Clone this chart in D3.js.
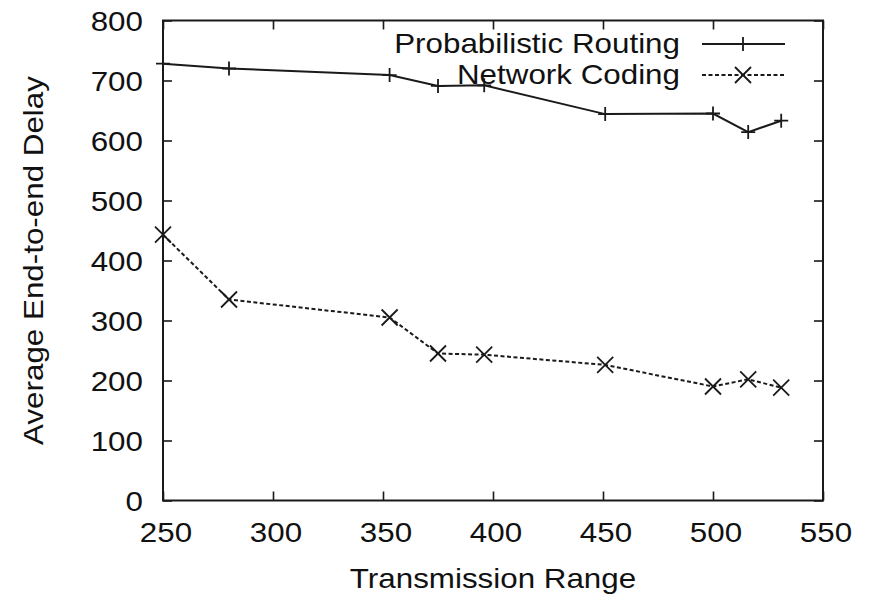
<!DOCTYPE html>
<html>
<head>
<meta charset="utf-8">
<script src="https://cdn.jsdelivr.net/npm/d3@7"></script>
<style>
  html, body { margin: 0; padding: 0; background: #fff; }
  svg { display: block; font-family: "Liberation Sans", Arial, sans-serif; }
</style>
</head>
<body>
<svg id="chart" width="871" height="596"></svg>
<script>
// Transmission range values (x) shared by both series
const ranges = [250, 280, 353, 375, 396, 451, 500, 516, 531];
// Average end-to-end delay per scheme
const probabilisticRouting = [728, 720, 709, 691, 692, 644, 645, 614, 633];
const networkCoding = [443, 335, 305, 245, 243, 226, 190, 202, 188];
const seriesNames = ["Probabilistic Routing", "Network Coding"];
const xTicks = [250, 300, 350, 400, 450, 500, 550];
const yTicks = [0, 100, 200, 300, 400, 500, 600, 700, 800];
const xTitle = "Transmission Range";
const yTitle = "Average End-to-end Delay";

const svg = d3.select("#chart");
const ink = "#1a1a1a";
const fontSize = 28;
const stretch = 1.12;

const plotLeft = 163, plotRight = 823, plotTop = 20.5, plotBottom = 500.5;
const x = d3.scaleLinear().domain([250, 550]).range([plotLeft, plotRight]);
const y = d3.scaleLinear().domain([0, 800]).range([plotBottom, plotTop]);

function label(g, str, tx, ty, anchor, rotate) {
  return g.append("text")
    .attr("transform", `translate(${tx},${ty})` + (rotate ? ` rotate(${rotate})` : "") + ` scale(${stretch},1)`)
    .attr("text-anchor", anchor)
    .attr("font-size", fontSize)
    .attr("fill", "#111")
    .text(str);
}

// Inward ticks on all four sides
const tick = 9;
const axes = svg.append("g");
axes.append("g").attr("transform", `translate(0,${plotBottom})`)
  .call(d3.axisBottom(x).tickValues(xTicks).tickSizeInner(-tick).tickSizeOuter(0).tickFormat(""));
axes.append("g").attr("transform", `translate(0,${plotTop})`)
  .call(d3.axisTop(x).tickValues(xTicks).tickSizeInner(-tick).tickSizeOuter(0).tickFormat(""));
axes.append("g").attr("transform", `translate(${plotLeft},0)`)
  .call(d3.axisLeft(y).tickValues(yTicks).tickSizeInner(-tick).tickSizeOuter(0).tickFormat(""));
axes.append("g").attr("transform", `translate(${plotRight},0)`)
  .call(d3.axisRight(y).tickValues(yTicks).tickSizeInner(-tick).tickSizeOuter(0).tickFormat(""));
axes.selectAll(".domain").remove();
axes.selectAll(".tick line").attr("stroke", ink).attr("stroke-width", 1.6);

// Plot frame
svg.append("rect")
  .attr("x", plotLeft).attr("y", plotTop)
  .attr("width", plotRight - plotLeft).attr("height", plotBottom - plotTop)
  .attr("fill", "none").attr("stroke", ink).attr("stroke-width", 2);

// Tick labels
const labels = svg.append("g");
xTicks.forEach(v => label(labels, String(v), x(v) + 3, plotBottom + 41, "middle"));
yTicks.forEach(v => label(labels, String(v), plotLeft - 20, y(v) + 10, "end"));

// Axis titles
label(svg, xTitle, (plotLeft + plotRight) / 2, 588, "middle");
label(svg, yTitle, 43, (plotTop + plotBottom) / 2, "middle", -90);

// Series
const line = d3.line().x(d => x(d[0])).y(d => y(d[1]));
const prData = ranges.map((r, i) => [r, probabilisticRouting[i]]);
const ncData = ranges.map((r, i) => [r, networkCoding[i]]);

function plus(g, cx, cy) {
  const s = 7;
  g.append("path")
    .attr("d", `M${cx - s},${cy}H${cx + s}M${cx},${cy - s}V${cy + s}`)
    .attr("stroke", ink).attr("stroke-width", 1.8).attr("fill", "none");
}
function cross(g, cx, cy) {
  const s = 8;
  g.append("path")
    .attr("d", `M${cx - s},${cy - s}L${cx + s},${cy + s}M${cx - s},${cy + s}L${cx + s},${cy - s}`)
    .attr("stroke", ink).attr("stroke-width", 1.8).attr("fill", "none");
}

const plot = svg.append("g");
plot.append("path").datum(prData).attr("d", line)
  .attr("fill", "none").attr("stroke", ink).attr("stroke-width", 2);
prData.forEach(d => plus(plot, x(d[0]), y(d[1])));

plot.append("path").datum(ncData).attr("d", line)
  .attr("fill", "none").attr("stroke", ink).attr("stroke-width", 2)
  .attr("stroke-dasharray", "4,2.5");
ncData.forEach(d => cross(plot, x(d[0]), y(d[1])));

// Legend
const legend = svg.append("g");
const lx0 = 702, lx1 = 785, lxm = 743;
label(legend, seriesNames[0], 680, 53, "end");
legend.append("line").attr("x1", lx0).attr("x2", lx1).attr("y1", 44).attr("y2", 44)
  .attr("stroke", ink).attr("stroke-width", 2);
plus(legend, lxm, 44);
label(legend, seriesNames[1], 680, 84, "end");
legend.append("line").attr("x1", lx0).attr("x2", lx1).attr("y1", 75).attr("y2", 75)
  .attr("stroke", ink).attr("stroke-width", 2).attr("stroke-dasharray", "4,2.5");
cross(legend, lxm, 75);
</script>
</body>
</html>
